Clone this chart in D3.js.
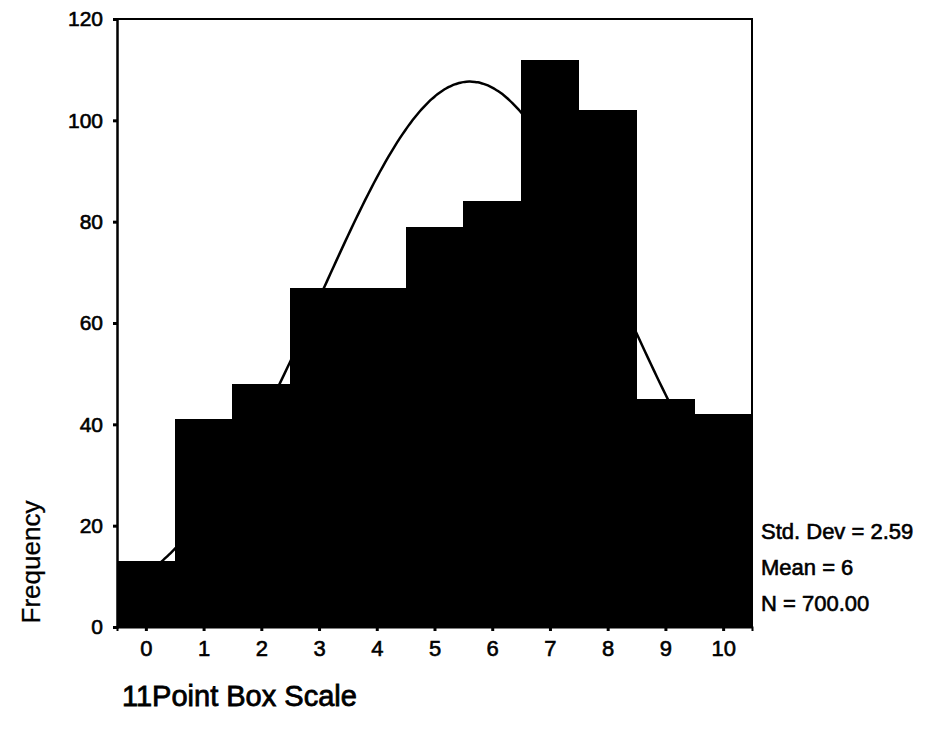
<!DOCTYPE html>
<html>
<head>
<meta charset="utf-8">
<script src="https://cdn.jsdelivr.net/npm/d3@7/dist/d3.min.js"></script>
<style>
  html, body { margin: 0; padding: 0; background: #fff; }
  svg { display: block; font-family: "Liberation Sans", Arial, sans-serif; }
  .label { fill: #000; stroke: #000; stroke-width: 0.6px; }
</style>
</head>
<body>
<svg id="chart" width="927" height="729"></svg>
<script>
// Histogram of the 11-point box scale responses
const categories = [0, 1, 2, 3, 4, 5, 6, 7, 8, 9, 10];
const frequencies = [13, 41, 48, 67, 67, 79, 84, 112, 102, 45, 42];
const yTicks = [0, 20, 40, 60, 80, 100, 120];
const statLines = ["Std. Dev = 2.59", "Mean = 6", "N = 700.00"];
const xTitle = "11Point Box Scale";
const yTitle = "Frequency";

const svg = d3.select("#chart");
const plot = { left: 117, right: 752, top: 19, bottom: 627 };

const x = d3.scaleLinear().domain([-0.5, 10.5]).range([plot.left, plot.right]);
const y = d3.scaleLinear().domain([0, 120]).range([plot.bottom, plot.top]);

// Fitted normal curve from the binned data
const n = d3.sum(frequencies);
const mean = d3.sum(categories, (c, i) => c * frequencies[i]) / n;
const variance = d3.sum(categories, (c, i) => (c - mean) ** 2 * frequencies[i]) / (n - 1);
const sd = Math.sqrt(variance);
const normal = v => n * Math.exp(-((v - mean) ** 2) / (2 * variance)) / (sd * Math.sqrt(2 * Math.PI));
const curvePts = d3.range(-0.5, 10.5001, 0.05).map(v => [v, normal(v)]);

svg.append("defs").append("clipPath").attr("id", "plotClip")
  .append("rect")
  .attr("x", plot.left).attr("y", plot.top)
  .attr("width", plot.right - plot.left).attr("height", plot.bottom - plot.top);

// Bars
svg.append("g")
  .attr("shape-rendering", "crispEdges")
  .selectAll("rect")
  .data(categories)
  .join("rect")
  .attr("x", c => x(c - 0.5))
  .attr("y", (c, i) => y(frequencies[i]))
  .attr("width", c => x(c + 0.5) - x(c - 0.5) + 0.6)
  .attr("height", (c, i) => y(0) - y(frequencies[i]))
  .attr("fill", "#000");

// Normal curve
svg.append("path")
  .datum(curvePts)
  .attr("clip-path", "url(#plotClip)")
  .attr("fill", "none")
  .attr("stroke", "#000")
  .attr("stroke-width", 2.5)
  .attr("d", d3.line().x(d => x(d[0])).y(d => y(d[1])).curve(d3.curveBasis));

// Frame: top and right edges
svg.append("path")
  .attr("fill", "none")
  .attr("stroke", "#000")
  .attr("stroke-width", 2)
  .attr("d", `M${plot.left},${plot.top}H${plot.right}V${plot.bottom}`);

// Y axis
const yAxis = svg.append("g")
  .attr("transform", `translate(${plot.left},0)`)
  .call(d3.axisLeft(y).tickValues(yTicks).tickSize(4).tickPadding(10));
yAxis.select(".domain").attr("stroke-width", 2.5);
yAxis.selectAll(".tick line").attr("stroke-width", 3);
yAxis.selectAll("text").attr("class", "label").attr("font-size", 21)
  .attr("font-family", "'Liberation Sans', Arial, sans-serif");

// X axis
const xAxis = svg.append("g")
  .attr("transform", `translate(0,${plot.bottom})`)
  .call(d3.axisBottom(x).tickValues(categories).tickFormat(d3.format("d")).tickSize(4).tickPadding(9));
xAxis.select(".domain").attr("stroke-width", 2);
xAxis.selectAll(".tick line").attr("stroke-width", 3);
xAxis.selectAll("text").attr("class", "label").attr("font-size", 22)
  .attr("font-family", "'Liberation Sans', Arial, sans-serif");

// Axis titles
svg.append("text")
  .attr("class", "label")
  .attr("transform", "translate(40,562) rotate(-90)")
  .attr("text-anchor", "middle")
  .attr("font-size", 26)
  .style("stroke-width", "0.3px")
  .text(yTitle);

svg.append("text")
  .attr("class", "label")
  .attr("x", 122).attr("y", 706)
  .attr("font-size", 29)
  .style("stroke-width", "0.8px")
  .text(xTitle);

// Summary statistics
svg.append("g")
  .selectAll("text")
  .data(statLines)
  .join("text")
  .attr("class", "label")
  .attr("x", 761)
  .attr("y", (d, i) => 539 + i * 36)
  .attr("font-size", 22)
  .text(d => d);
</script>
</body>
</html>
